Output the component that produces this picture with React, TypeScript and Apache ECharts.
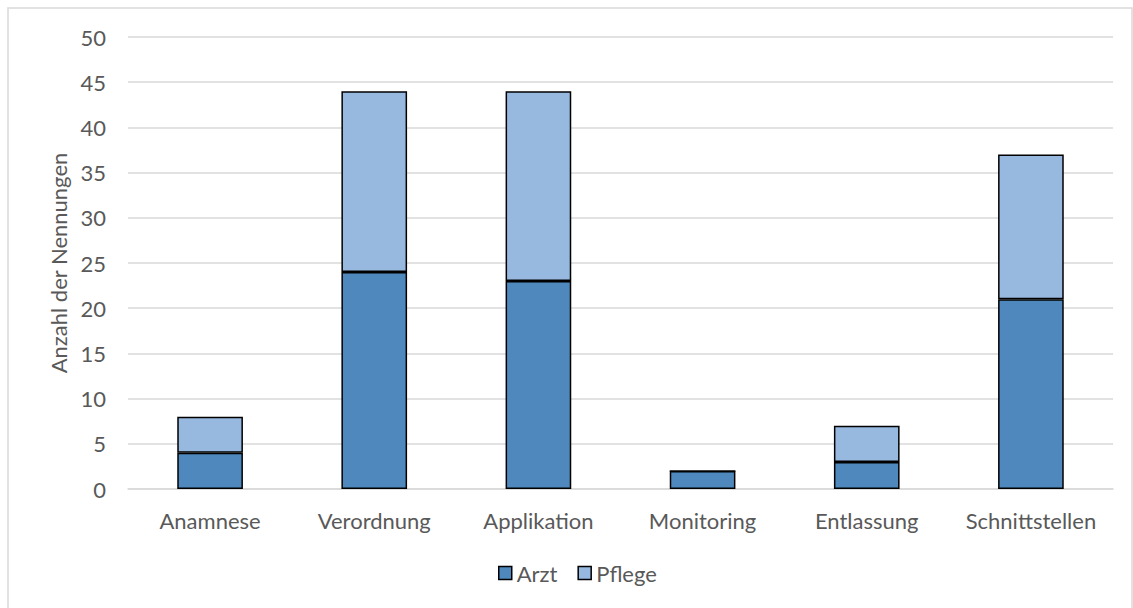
import React, { useEffect, useRef } from "react";
import * as echarts from "echarts";

const categories = ["Anamnese", "Verordnung", "Applikation", "Monitoring", "Entlassung", "Schnittstellen"];
const arzt = [4, 24, 23, 2, 3, 21];
const pflege = [4, 20, 21, 0, 4, 16];

const FONT = "Lato, 'Open Sans', sans-serif";
const TEXT = "#595959";
const FS = 22;

export default function App() {
  const ref = useRef<HTMLDivElement>(null);

  useEffect(() => {
    if (!ref.current) return;
    const chart = echarts.init(ref.current, undefined, { renderer: "svg" });
    chart.setOption({
      animation: false,
      backgroundColor: "#ffffff",
      textStyle: { fontFamily: FONT },
      graphic: [
        {
          type: "rect",
          shape: { x: 8, y: 8, width: 1124, height: 620 },
          style: { fill: "none", stroke: "#d9d9d9", lineWidth: 1.5 },
          silent: true,
        },
      ],
      grid: { left: 128, top: 37, width: 985, height: 452 },
      legend: {
        top: 557,
        left: 493,
        icon: "rect",
        itemWidth: 13,
        itemHeight: 13,
        itemGap: 20,
        itemStyle: { borderColor: "#000000", borderWidth: 1.5 },
        textStyle: { color: TEXT, fontSize: FS, fontFamily: FONT, padding: [0, 0, 0, 0] },
        data: ["Arzt", "Pflege"],
      },
      xAxis: {
        type: "category",
        data: categories,
        axisLine: { lineStyle: { color: "#d9d9d9", width: 1.5 } },
        axisTick: { show: false },
        axisLabel: { color: TEXT, fontSize: FS, margin: 20, interval: 0, fontFamily: FONT },
      },
      yAxis: {
        type: "value",
        min: 0,
        max: 50,
        interval: 5,
        name: "Anzahl der Nennungen",
        nameLocation: "middle",
        nameGap: 56,
        nameTextStyle: { color: TEXT, fontSize: FS, fontFamily: FONT },
        axisLine: { show: false },
        axisTick: { show: false },
        axisLabel: { color: TEXT, fontSize: FS, margin: 22, fontFamily: FONT },
        splitLine: { lineStyle: { color: "#d9d9d9", width: 1.5 } },
      },
      series: [
        {
          name: "Arzt",
          type: "bar",
          stack: "total",
          data: arzt,
          barWidth: "40%",
          itemStyle: { color: "#4E88BC", borderColor: "#000000", borderWidth: 1.5 },
        },
        {
          name: "Pflege",
          type: "bar",
          stack: "total",
          data: pflege,
          barWidth: "40%",
          itemStyle: { color: "#97B9E0", borderColor: "#000000", borderWidth: 1.5 },
        },
      ],
    });
    return () => chart.dispose();
  }, []);

  return (
    <div
      ref={ref}
      style={{ position: "absolute", left: 0, top: 0, width: 1133, height: 608 }}
    />
  );
}
